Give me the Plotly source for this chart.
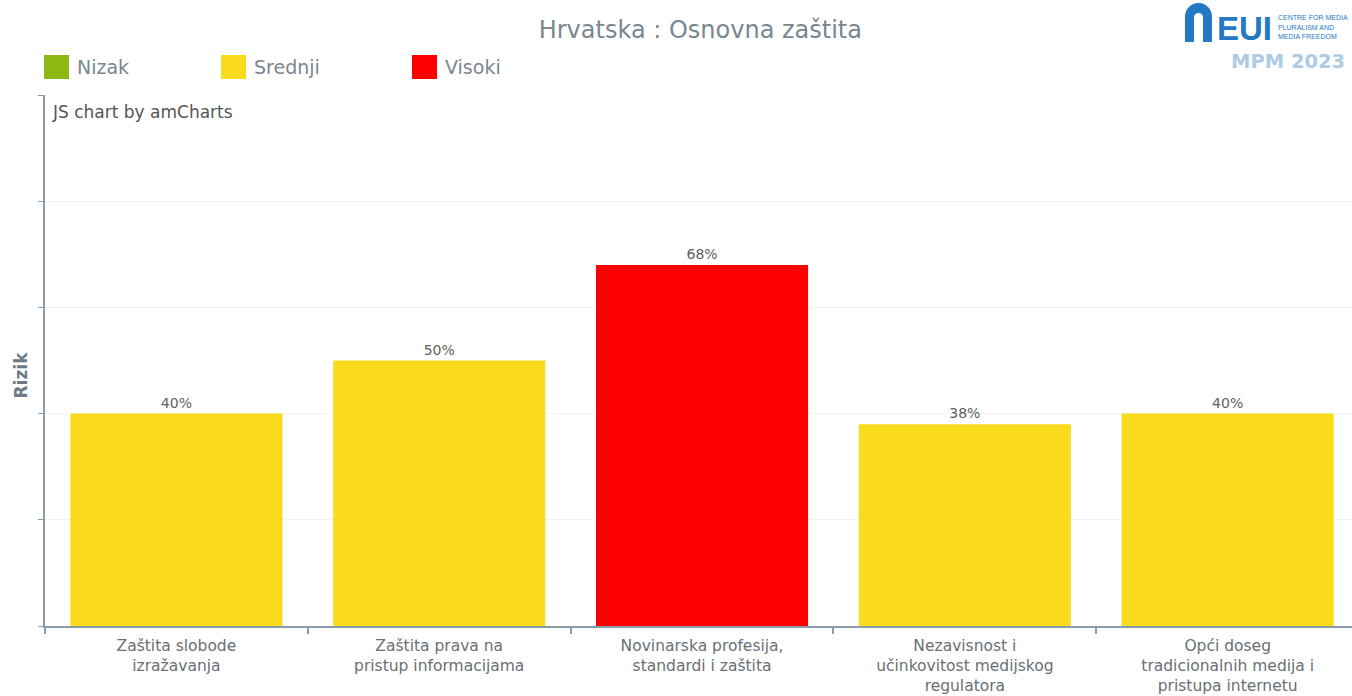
import plotly.graph_objects as go

# ---- data ----
title_text = "Hrvatska : Osnovna zaštita"
categories = [
    "Zaštita slobode<br>izražavanja",
    "Zaštita prava na<br>pristup informacijama",
    "Novinarska profesija,<br>standardi i zaštita",
    "Nezavisnost i<br>učinkovitost medijskog<br>regulatora",
    "Opći doseg<br>tradicionalnih medija i<br>pristupa internetu",
]
values = [40, 50, 68, 38, 40]
risk_levels = ["Srednji", "Srednji", "Visoki", "Srednji", "Srednji"]
legend_names = ["Nizak", "Srednji", "Visoki"]
legend_colors = ["#8DB811", "#FADB1C", "#FF0000"]
level_color = dict(zip(legend_names, legend_colors))
logo_lines = ["CENTRE FOR MEDIA", "PLURALISM AND", "MEDIA FREEDOM"]

FONT = "DejaVu Sans"
LOGOFONT = "Liberation Sans"
GRAY = "#6E7B86"
AXIS = "#8A9BAA"
BLUE = "#2479C4"


def px(x):
    return (x - 45) / 1307


def py(y):
    return (626 - y) / 531


fig = go.Figure()
fig.add_trace(go.Bar(
    x=categories,
    y=values,
    marker=dict(color=[level_color[l] for l in risk_levels], line=dict(width=0)),
    text=[f"{v}%" for v in values],
    textposition="outside",
    textfont=dict(family=FONT, size=14, color="#606060"),
    cliponaxis=False,
    showlegend=False,
    hoverinfo="skip",
))

fig.update_layout(
    width=1352, height=696,
    margin=dict(l=45, r=0, t=95, b=70, autoexpand=False),
    paper_bgcolor="white", plot_bgcolor="white",
    bargap=0.193,
    font=dict(family=FONT, color=GRAY),
    title=dict(text=title_text, x=0.518, xanchor="center", y=0.957, yanchor="middle",
               font=dict(family=FONT, size=24, color="#7A8690")),
)
fig.update_xaxes(
    range=[-0.5, 4.473],
    automargin=False,
    showline=True, linecolor=AXIS, linewidth=2,
    ticks="outside", tickson="boundaries", ticklen=6, tickcolor=AXIS, tickwidth=2,
    tickfont=dict(family=FONT, size=15.5, color="#6A6F74"),
    ticklabelstandoff=4,
    showgrid=False,
)
fig.update_yaxes(
    range=[0, 100], dtick=20,
    automargin=False,
    showticklabels=False,
    showline=True, linecolor=AXIS, linewidth=2,
    ticks="outside", ticklen=5, tickcolor=AXIS,
    showgrid=True, gridcolor="#F3F3F3", gridwidth=1,
    zeroline=False,
)

# y-axis title
fig.add_annotation(text="<b>Rizik</b>", xref="paper", yref="paper", x=0, y=0.5,
                   xanchor="center", yanchor="middle", xshift=-25, yshift=-15,
                   textangle=-90, showarrow=False,
                   font=dict(family=FONT, size=17, color="#6E7B86"))

# amCharts credit
fig.add_annotation(text="JS chart by amCharts", xref="paper", yref="paper",
                   x=0, y=1, xanchor="left", yanchor="top", xshift=5, yshift=-5,
                   showarrow=False, font=dict(family=FONT, size=17, color="#555555"))

# legend (custom swatches)
leg_x = [44, 221, 412]
for name, col, lx in zip(legend_names, legend_colors, leg_x):
    fig.add_shape(type="rect", xref="paper", yref="paper",
                  x0=px(lx), x1=px(lx + 25), y0=py(55), y1=py(79),
                  fillcolor=col, line=dict(width=0), layer="above")
    fig.add_annotation(text=name, xref="paper", yref="paper",
                       x=px(lx + 31), y=py(67),
                       xanchor="left", yanchor="middle", showarrow=False,
                       font=dict(family=FONT, size=19, color="#7A8690"))

# logo approximation: arch
fig.add_shape(type="circle", xref="paper", yref="paper",
              x0=px(1185), x1=px(1212), y0=py(30), y1=py(3),
              fillcolor=BLUE, line=dict(width=0), layer="above")
fig.add_shape(type="rect", xref="paper", yref="paper",
              x0=px(1185), x1=px(1212), y0=py(42), y1=py(16),
              fillcolor=BLUE, line=dict(width=0), layer="above")
fig.add_shape(type="rect", xref="paper", yref="paper",
              x0=px(1194), x1=px(1203), y0=py(42), y1=py(18),
              fillcolor="white", line=dict(width=0), layer="above")
fig.add_shape(type="circle", xref="paper", yref="paper",
              x0=px(1194), x1=px(1203), y0=py(22), y1=py(13),
              fillcolor="white", line=dict(width=0), layer="above")
fig.add_annotation(text="<b>EUI</b>", xref="paper", yref="paper",
                   x=px(1215), y=py(28), xanchor="left", yanchor="middle",
                   showarrow=False, font=dict(family=LOGOFONT, size=33, color=BLUE))
for i, line in enumerate(logo_lines):
    fig.add_annotation(text=line, xref="paper", yref="paper",
                       x=px(1276), y=py(17 + 10 * i), xanchor="left", yanchor="middle",
                       showarrow=False,
                       font=dict(family=LOGOFONT, size=7, color=BLUE))
fig.add_annotation(text="<b>MPM 2023</b>", xref="paper", yref="paper",
                   x=px(1229), y=py(61), xanchor="left", yanchor="middle",
                   showarrow=False, font=dict(family=FONT, size=19.5, color="#AECBE4"))

fig.write_html("out.html", config={"displayModeBar": False},
               post_script="document.body.style.margin='0';")
